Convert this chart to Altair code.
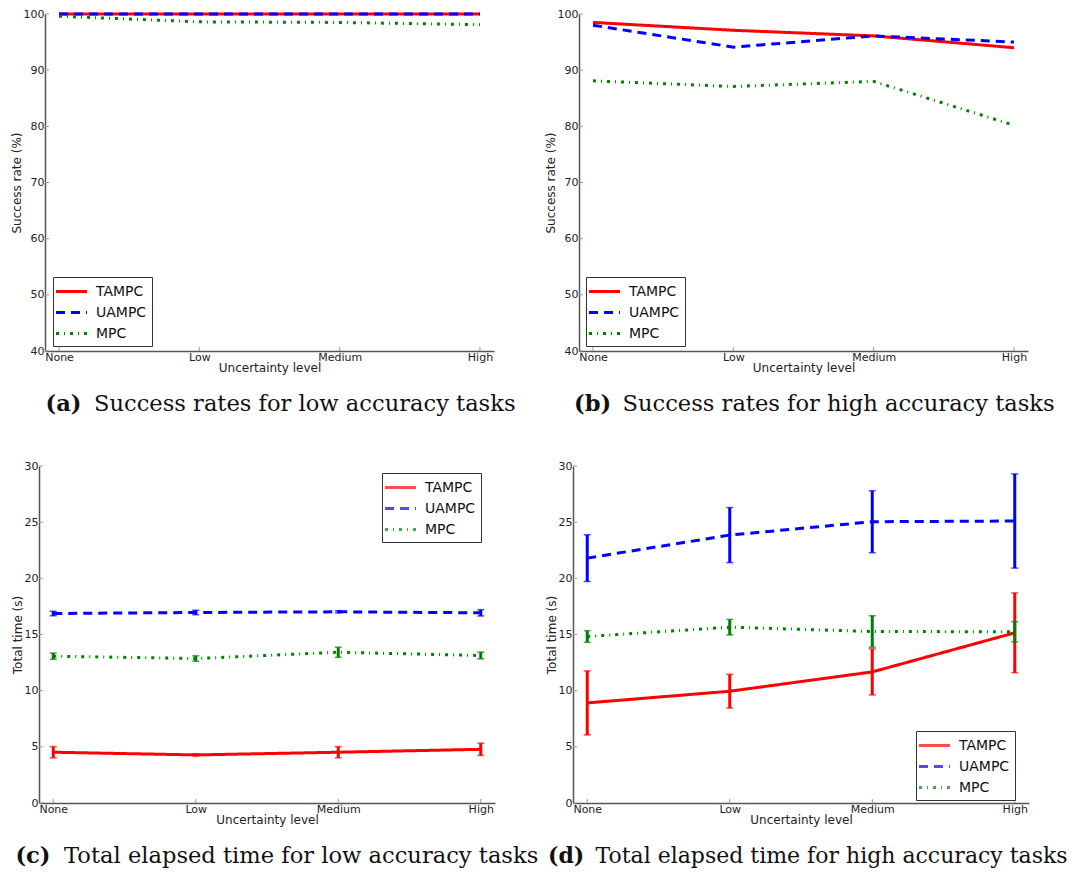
import altair as alt
import pandas as pd

levels = ["None", "Low", "Medium", "High"]
methods = ["TAMPC", "UAMPC", "MPC"]
colors = ["#ff0000", "#0000ff", "#008000"]
dashes = [[1, 0], [9, 6], [3, 5, 1, 5]]

# (a) success rates, low accuracy tasks
a_tampc = [100, 100, 100, 100]
a_uampc = [100, 100, 100, 100]
a_mpc = [99.6, 98.6, 98.5, 98.1]
# (b) success rates, high accuracy tasks
b_tampc = [98.5, 97.1, 96.1, 94.0]
b_uampc = [98.0, 94.1, 96.1, 95.0]
b_mpc = [88.1, 87.1, 88.0, 80.2]
# (c) total time, low accuracy tasks (mean, error)
c_tampc = [4.52, 4.28, 4.52, 4.78]
c_tampc_err = [0.5, 0.1, 0.5, 0.55]
c_uampc = [16.87, 16.96, 17.02, 16.93]
c_uampc_err = [0.2, 0.2, 0.1, 0.28]
c_mpc = [13.07, 12.86, 13.42, 13.13]
c_mpc_err = [0.28, 0.24, 0.45, 0.3]
# (d) total time, high accuracy tasks (mean, error)
d_tampc = [8.91, 9.95, 11.67, 15.15]
d_tampc_err = [2.85, 1.5, 2.05, 3.55]
d_uampc = [21.8, 23.85, 25.04, 25.1]
d_uampc_err = [2.08, 2.45, 2.76, 4.19]
d_mpc = [14.82, 15.65, 15.27, 15.24]
d_mpc_err = [0.52, 0.69, 1.4, 0.9]

success_ticks = [40, 50, 60, 70, 80, 90, 100]
time_ticks = [0, 5, 10, 15, 20, 25, 30]

FONT = "DejaVu Sans"
SERIF = "DejaVu Serif"
H = 337


def panel(series, errors, ydomain, yticks, ytitle, width, shift, legxy,
          letter, caption, cap_x1, cap_x2, cap_y, cap_size):
    rows = []
    for m, vals, errs in zip(methods, series, errors):
        for i, lvl in enumerate(levels):
            e = errs[i] if errs is not None else 0
            rows.append(dict(level=lvl, method=m, value=vals[i],
                             lo=vals[i] - e, hi=vals[i] + e))
    df = pd.DataFrame(rows)

    xenc = alt.X("level:N", sort=levels,
                 scale=alt.Scale(type="point", padding=0.1,
                                 range=[shift, width]),
                 axis=alt.Axis(title="Uncertainty level", labelAngle=0,
                               ticks=False, labelPadding=0, titlePadding=0))
    yscale = alt.Scale(domain=ydomain, nice=False, zero=False)
    yenc = alt.Y("value:Q", scale=yscale,
                 axis=alt.Axis(title=ytitle, values=yticks, ticks=False,
                               grid=False, labelPadding=1, titlePadding=0,
                               offset=-shift))
    leg = alt.Legend(title=None, orient="none", legendX=legxy[0],
                     legendY=legxy[1],
                     strokeColor="#333333", fillColor="white", padding=5,
                     symbolType="M-2,0L2,0", symbolSize=240, symbolOffset=4,
                     symbolStrokeWidth=3, labelFontSize=14, labelFont=FONT,
                     labelColor="#111111", labelOffset=15, rowPadding=4)
    cenc = alt.Color("method:N", scale=alt.Scale(domain=methods, range=colors),
                     legend=leg)
    denc = alt.StrokeDash("method:N",
                          scale=alt.Scale(domain=methods, range=dashes),
                          legend=leg)

    base = alt.Chart(df)
    layers = []
    # inner ticks
    layers.append(alt.Chart(pd.DataFrame({"level": levels})).mark_rule(
        color="#999999", strokeWidth=1).encode(
        x=xenc, y=alt.value(H), y2=alt.value(H - 4)))
    layers.append(alt.Chart(pd.DataFrame({"value": yticks})).mark_rule(
        color="#999999", strokeWidth=1).encode(
        y=yenc, x=alt.value(shift), x2=alt.value(shift + 4)))
    layers.append(base.mark_line(strokeWidth=3).encode(
        x=xenc, y=yenc, color=cenc, strokeDash=denc))
    if errors[0] is not None:
        layers.append(base.mark_rule(strokeWidth=3).encode(
            x=xenc, y=alt.Y("lo:Q", scale=yscale), y2="hi:Q", color=cenc))
        layers.append(base.mark_tick(thickness=1.5, size=7).encode(
            x=xenc, y=alt.Y("lo:Q", scale=yscale), color=cenc))
        layers.append(base.mark_tick(thickness=1.5, size=7).encode(
            x=xenc, y=alt.Y("hi:Q", scale=yscale), color=cenc))
    one = alt.Chart(alt.Data(values=[{}]))
    layers.append(one.mark_text(align="left", baseline="alphabetic",
                                font=SERIF, fontSize=cap_size,
                                fontWeight="bold", color="#111111").encode(
        x=alt.value(cap_x1), y=alt.value(cap_y), text=alt.value(letter)))
    layers.append(one.mark_text(align="left", baseline="alphabetic",
                                font=SERIF, fontSize=cap_size,
                                color="#111111").encode(
        x=alt.value(cap_x2), y=alt.value(cap_y), text=alt.value(caption)))
    return alt.layer(*layers).properties(width=width, height=H)


pa = panel([a_tampc, a_uampc, a_mpc], [None, None, None], [40, 100],
           success_ticks, "Success rate (%)", 455, 6, (14, 263),
           "(a)", "Success rates for low accuracy tasks", 6.5, 55, 397, 22.6)
pb = panel([b_tampc, b_uampc, b_mpc], [None, None, None], [40, 100],
           success_ticks, "Success rate (%)", 449, 0, (7, 263),
           "(b)", "Success rates for high accuracy tasks", -5, 43.5, 397, 22.6)
pc = panel([c_tampc, c_uampc, c_mpc], [c_tampc_err, c_uampc_err, c_mpc_err],
           [0, 30], time_ticks, "Total time (s)", 456, 0, (343, 7),
           "(c)", "Total elapsed time for low accuracy tasks", -23.6, 25, 397,
           22.6)
pd_ = panel([d_tampc, d_uampc, d_mpc], [d_tampc_err, d_uampc_err, d_mpc_err],
            [0, 30], time_ticks, "Total time (s)", 456, 0, (343, 265),
            "(d)", "Total elapsed time for high accuracy tasks", -25, 22.5,
            397, 22.0)

row1 = alt.hconcat(pa, pb, spacing=28).resolve_scale(
    color="independent", strokeDash="independent")
row2 = alt.hconcat(pc, pd_, spacing=6).resolve_scale(
    color="independent", strokeDash="independent")

chart = alt.vconcat(row1, row2, spacing=44).resolve_scale(
    color="independent", strokeDash="independent"
).properties(
    padding={"left": 2, "top": 0, "right": 0, "bottom": 0}
).configure_view(stroke=None).configure_axis(
    domainColor="#555555", domainWidth=1.5, labelFont=FONT, labelFontSize=11,
    labelColor="#222222", titleFont=FONT, titleFontSize=12,
    titleFontWeight="normal", titleColor="#222222"
)

chart.save("out.html", embed_options={"renderer": "svg", "actions": False})
